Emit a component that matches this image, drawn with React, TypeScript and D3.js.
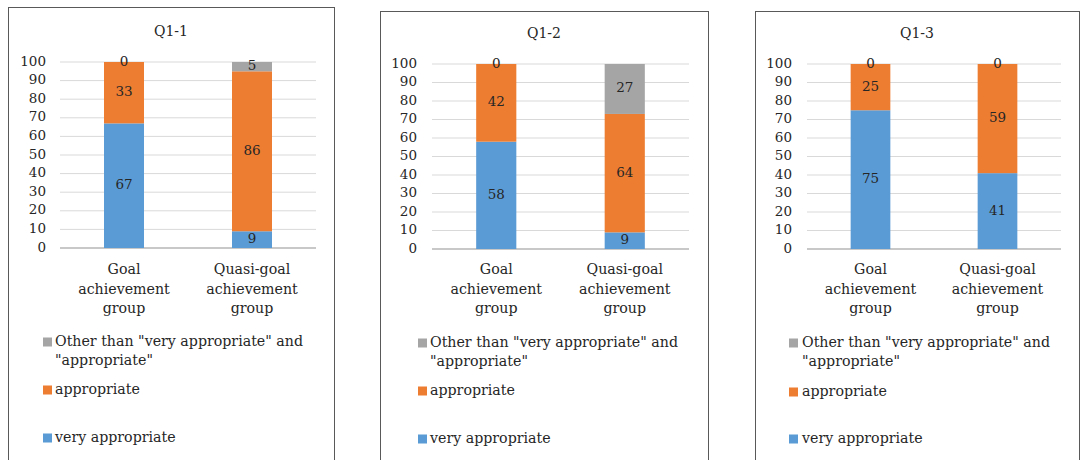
import React from "react";
import * as d3 from "d3";

const panelTitles = ["Q1-1", "Q1-2", "Q1-3"];
const categoryLines = [
  ["Goal", "achievement", "group"],
  ["Quasi-goal", "achievement", "group"],
];
const categories = ["Goal achievement group", "Quasi-goal achievement group"];
const legendLines = [
  ["Other than \"very appropriate\" and", "\"appropriate\""],
  ["appropriate"],
  ["very appropriate"],
];
const veryAppropriate = [
  [67, 9],
  [58, 9],
  [75, 41],
];
const appropriate = [
  [33, 86],
  [42, 64],
  [25, 59],
];
const other = [
  [0, 5],
  [0, 27],
  [0, 0],
];
const yTicks = [0, 10, 20, 30, 40, 50, 60, 70, 80, 90, 100];

const COLORS = ["#5B9BD5", "#ED7D31", "#A5A5A5"];
const FONT = "'DejaVu Serif', serif";
const TEXT = "#262626";
const NUM_SIZE = 13.5;
const TXT_SIZE = 14.2;

const layouts = [
  { bx: 8, by: 7, bw: 326, bh: 460, x0: 60, x1: 316, yTop: 62, yBot: 248, titleY: 32, tickX: 46, legX: 43, legTextX: 55, legY: [342, 390, 438] },
  { bx: 380, by: 11, bw: 328, bh: 460, x0: 432, x1: 689, yTop: 64, yBot: 249, titleY: 34, tickX: 417, legX: 418, legTextX: 430, legY: [343, 391, 439] },
  { bx: 755, by: 11, bw: 324, bh: 460, x0: 807, x1: 1061, yTop: 64, yBot: 249, titleY: 34, tickX: 792, legX: 789, legTextX: 802, legY: [343, 392, 439] },
];

function Panel({ idx }: { idx: number }) {
  const L = layouts[idx];
  const x = d3.scaleBand<string>().domain(categories).range([L.x0, L.x1]).paddingInner(0.6875).paddingOuter(0.34375);
  const y = d3.scaleLinear().domain([0, 100]).range([L.yBot, L.yTop]);
  const rows = categories.map((c, i) => ({
    cat: c,
    v0: veryAppropriate[idx][i],
    v1: appropriate[idx][i],
    v2: other[idx][i],
  }));
  const stack = d3.stack<any>().keys(["v0", "v1", "v2"])(rows);
  const titleX = (L.bx + L.bx + L.bw) / 2;
  return (
    <g>
      <rect x={L.bx + 0.5} y={L.by + 0.5} width={L.bw} height={L.bh} fill="#fff" stroke="#595959" strokeWidth={1} />
      <text x={titleX} y={L.titleY} textAnchor="middle" dominantBaseline="middle" fontFamily={FONT} fontSize={14} fill={TEXT}>
        {panelTitles[idx]}
      </text>
      {yTicks.map((t) => (
        <g key={t}>
          <line x1={L.x0} x2={L.x1} y1={y(t)} y2={y(t)} stroke={t === 0 ? "#C8C8C8" : "#D9D9D9"} strokeWidth={t === 0 ? 2 : 1} />
          <text x={L.tickX} y={y(t)} textAnchor="end" dominantBaseline="middle" fontFamily={FONT} fontSize={NUM_SIZE} fill={TEXT}>
            {t}
          </text>
        </g>
      ))}
      {stack.map((s, si) =>
        s.map((d, di) => (
          <rect key={`${si}-${di}`} x={x(rows[di].cat)} width={x.bandwidth()} y={y(d[1])} height={y(d[0]) - y(d[1])} fill={COLORS[si]} />
        ))
      )}
      {stack.map((s, si) =>
        s.map((d, di) => {
          const v = d[1] - d[0];
          return (
            <text
              key={`l${si}-${di}`}
              x={(x(rows[di].cat) as number) + x.bandwidth() / 2}
              y={y((d[0] + d[1]) / 2)}
              textAnchor="middle"
              dominantBaseline="middle"
              fontFamily={FONT}
              fontSize={NUM_SIZE}
              fill={TEXT}
            >
              {v}
            </text>
          );
        })
      )}
      {categories.map((c, ci) => (
        <text key={c} x={(x(c) as number) + x.bandwidth() / 2} y={270} textAnchor="middle" fontFamily={FONT} fontSize={TXT_SIZE} fill={TEXT} dominantBaseline="middle">
          {categoryLines[ci].map((ln, li) => (
            <tspan key={li} x={(x(c) as number) + x.bandwidth() / 2} dy={li === 0 ? 0 : 19.5}>
              {ln}
            </tspan>
          ))}
        </text>
      ))}
      {legendLines.map((lines, li) => (
        <g key={li}>
          <rect x={L.legX} y={L.legY[li] - 4.5} width={9} height={9} fill={COLORS[2 - li]} />
          <text x={L.legTextX} y={L.legY[li]} fontFamily={FONT} fontSize={TXT_SIZE} fill={TEXT} dominantBaseline="middle">
            {lines.map((ln, k) => (
              <tspan key={k} x={L.legTextX} dy={k === 0 ? 0 : 19}>
                {ln}
              </tspan>
            ))}
          </text>
        </g>
      ))}
    </g>
  );
}

export default function App() {
  return (
    <svg width={1081} height={460} style={{ position: "absolute", left: 0, top: 0, background: "#fff" }}>
      <rect width={1081} height={460} fill="#fff" />
      {layouts.map((_, i) => (
        <Panel key={i} idx={i} />
      ))}
    </svg>
  );
}
